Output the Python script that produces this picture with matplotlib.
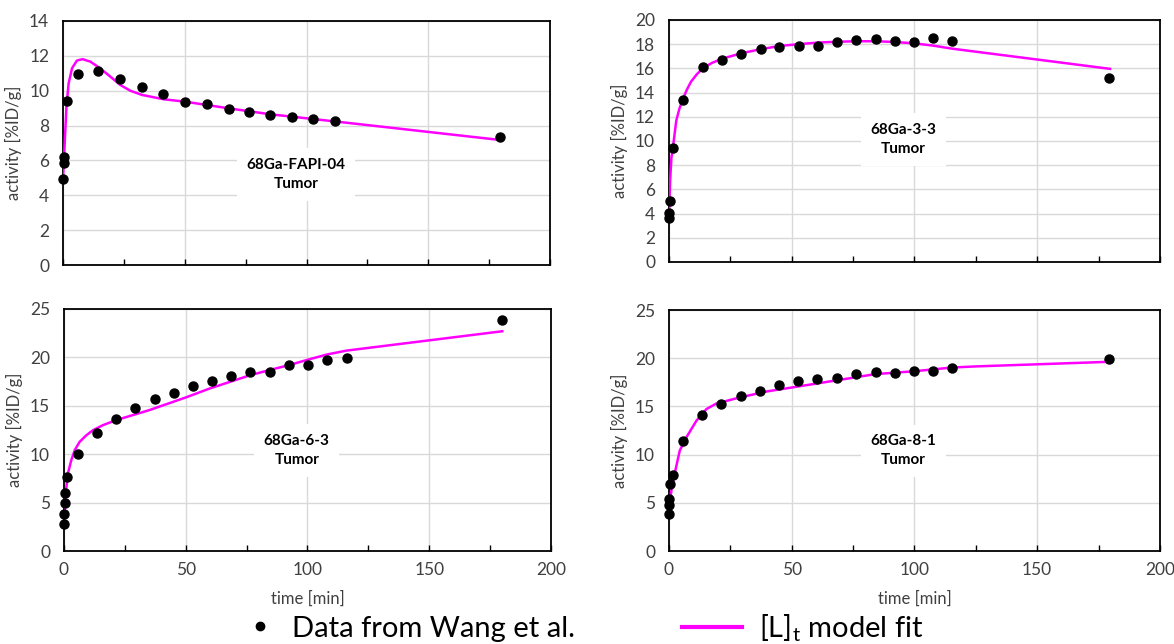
import matplotlib
matplotlib.use("Agg")
import matplotlib.pyplot as plt
from matplotlib.lines import Line2D
from matplotlib.ticker import MultipleLocator

plt.rcParams["font.family"] = ["Lato", "DejaVu Sans"]
plt.rcParams["mathtext.fontset"] = "custom"
plt.rcParams["mathtext.rm"] = "Lato"

COLOR_FIT = "#ff00ff"
COLOR_DATA = "#000000"
COLOR_GRID = "#d9d9d9"
COLOR_TEXT = "#404040"

# 68Ga-FAPI-04 (oben links)
fapi_t = [0.1, 0.2, 0.3, 1.5, 6, 14.5, 23.5, 32.5, 41, 50, 59, 68, 76.5, 85, 94, 102.5, 111.5, 179.5]
fapi_y = [4.93, 5.87, 6.18, 9.43, 10.96, 11.13, 10.65, 10.21, 9.81, 9.37, 9.24, 8.93, 8.80, 8.59, 8.49, 8.36, 8.26, 7.34]
fapi_fit_t = [0, 0.55, 1.4, 2.3, 3.7, 5.7, 8, 11.2, 15.2, 19.4, 23.5, 27.6, 32.4, 41.3, 50.2, 59.1, 68, 85, 111.5, 179.7]
fapi_fit_y = [4.97, 6.6, 9.09, 10.43, 11.29, 11.73, 11.81, 11.67, 11.29, 10.81, 10.33, 10.0, 9.76, 9.51, 9.37, 9.18, 8.99, 8.65, 8.24, 7.17]

# 68Ga-3-3 (oben rechts)
g33_t = [0.1, 0.2, 0.3, 1.7, 5.6, 13.8, 21.7, 29.5, 37.3, 45, 52.9, 60.6, 68.5, 76.4, 84.2, 92, 99.7, 107.6, 115.3, 179.1]
g33_y = [3.63, 4.04, 5.0, 9.46, 13.4, 16.12, 16.73, 17.19, 17.58, 17.77, 17.88, 17.83, 18.21, 18.32, 18.4, 18.27, 18.16, 18.54, 18.27, 15.24]
g33_fit_t = [0, 0.5, 1.0, 1.7, 3, 4.3, 5.6, 7.2, 9, 11.3, 13.8, 17.5, 21.7, 29.5, 37.3, 45, 52.9, 60.6, 68.5, 76.4, 84.2, 92, 99.7, 107.6, 115.3, 179.7]
g33_fit_y = [3.8, 6.8, 8.6, 9.6, 11.7, 12.7, 13.4, 14.2, 14.9, 15.5, 16.0, 16.45, 16.8, 17.25, 17.58, 17.85, 18.0, 18.13, 18.2, 18.24, 18.24, 18.18, 18.07, 17.88, 17.63, 15.96]

# 68Ga-6-3 (unten links)
g63_t = [0.0, 0.1, 0.3, 0.6, 1.1, 5.6, 13.5, 21.4, 29.3, 37.2, 45, 52.9, 60.8, 68.5, 76.6, 84.5, 92.4, 100.3, 108.2, 116.1, 179.8]
g63_y = [2.84, 3.81, 4.92, 5.96, 7.62, 10.0, 12.22, 13.68, 14.75, 15.75, 16.31, 17.04, 17.52, 18.11, 18.49, 18.52, 19.18, 19.25, 19.74, 19.91, 23.89]
g63_fit_t = [0, 0.7, 1.6, 3.0, 4.4, 6.4, 9.2, 11.9, 16, 21.4, 35, 50, 60, 68.5, 76.6, 84.5, 92.4, 100, 108, 116, 180]
g63_fit_y = [2.9, 5.94, 8.0, 9.38, 10.41, 11.27, 11.96, 12.48, 13.0, 13.52, 14.55, 15.86, 16.8, 17.5, 18.17, 18.7, 19.2, 19.75, 20.3, 20.7, 22.7]

# 68Ga-8-1 (unten rechts)
g81_t = [0.0, 0.1, 0.2, 0.6, 1.5, 5.6, 13.5, 21.3, 29.2, 37.1, 44.8, 52.7, 60.5, 68.4, 76.3, 84.2, 91.9, 99.8, 107.6, 115.5, 179.3]
g81_y = [3.88, 4.74, 5.4, 6.93, 7.93, 11.43, 14.06, 15.2, 16.07, 16.62, 17.21, 17.59, 17.8, 17.9, 18.32, 18.52, 18.46, 18.7, 18.7, 19.01, 19.91]
g81_fit_t = [0, 1.0, 2.3, 4.4, 7.1, 11.2, 15.3, 19.4, 28.9, 39.8, 50, 62, 73.8, 84, 92, 100, 108, 115, 125, 179.5]
g81_fit_y = [4.38, 6.28, 8.0, 10.41, 11.79, 13.52, 14.73, 15.31, 15.93, 16.55, 16.96, 17.45, 17.93, 18.35, 18.5, 18.65, 18.85, 19.03, 19.15, 19.63]

PANELS = [
    ("68Ga-FAPI-04\nTumor", fapi_t, fapi_y, fapi_fit_t, fapi_fit_y, 14, 2, 0.37),
    ("68Ga-3-3\nTumor", g33_t, g33_y, g33_fit_t, g33_fit_y, 20, 2, 0.507),
    ("68Ga-6-3\nTumor", g63_t, g63_y, g63_fit_t, g63_fit_y, 25, 5, 0.416),
    ("68Ga-8-1\nTumor", g81_t, g81_y, g81_fit_t, g81_fit_y, 25, 5, 0.416),
]

AXES_RECTS = [
    [0.0537, 0.5885, 0.4148, 0.3789],
    [0.5698, 0.5932, 0.4182, 0.3758],
    [0.0545, 0.1444, 0.4148, 0.3758],
    [0.5698, 0.1444, 0.4182, 0.3742],
]


def plot_panel(ax, label, t, y, fit_t, fit_y, ymax, ystep, label_y, bottom_row):
    ax.plot(fit_t, fit_y, color=COLOR_FIT, linewidth=1.8, zorder=3)
    ax.plot(t, y, "o", color=COLOR_DATA, markersize=6.5, zorder=4, clip_on=False)

    ax.set_xlim(0, 200)
    ax.set_ylim(0, ymax)
    ax.xaxis.set_major_locator(MultipleLocator(50))
    ax.xaxis.set_minor_locator(MultipleLocator(25))
    ax.yaxis.set_major_locator(MultipleLocator(ystep))
    ax.grid(True, which="major", color=COLOR_GRID, linewidth=1.0)
    ax.set_axisbelow(True)
    for spine in ax.spines.values():
        spine.set_linewidth(1.3)
        spine.set_color("#000000")

    ax.tick_params(axis="y", length=0, pad=10, labelsize=12.5, labelcolor=COLOR_TEXT)
    ax.tick_params(axis="x", which="both", direction="in", length=4, width=1,
                   pad=8, labelsize=12.5, labelcolor=COLOR_TEXT)
    ax.set_ylabel("activity [%ID/g]", fontsize=12, color=COLOR_TEXT, labelpad=5)
    if bottom_row:
        ax.set_xlabel("time [min]", fontsize=12, color=COLOR_TEXT, labelpad=9)
    else:
        ax.tick_params(axis="x", labelbottom=False)

    ax.text(0.478, label_y, label, transform=ax.transAxes, ha="center", va="center",
            fontsize=11, fontweight="bold", color="#000000", linespacing=1.45,
            bbox=dict(facecolor="white", edgecolor="none", pad=7), zorder=2)


fig = plt.figure(figsize=(11.74, 6.44), dpi=100)
for i, (rect, panel) in enumerate(zip(AXES_RECTS, PANELS)):
    ax = fig.add_axes(rect)
    label, t, y, fit_t, fit_y, ymax, ystep, label_y = panel
    plot_panel(ax, label, t, y, fit_t, fit_y, ymax, ystep, label_y, bottom_row=i >= 2)

data_handle = Line2D([], [], linestyle="none", marker="o", color=COLOR_DATA, markersize=6)
fit_handle = Line2D([], [], color=COLOR_FIT, linewidth=3)
fig.legend([data_handle], ["Data from Wang et al."], loc="center left",
           bbox_to_anchor=(0.209, 0.024), frameon=False, fontsize=21,
           handlelength=1.0, handletextpad=0.6, borderpad=0, borderaxespad=0)
fig.legend([fit_handle], [r"[L]$_\mathrm{t}$ model fit"], loc="center left",
           bbox_to_anchor=(0.581, 0.024), frameon=False, fontsize=21,
           handlelength=2.07, handletextpad=0.55, borderpad=0, borderaxespad=0)

fig.savefig("out.png", dpi=100)
